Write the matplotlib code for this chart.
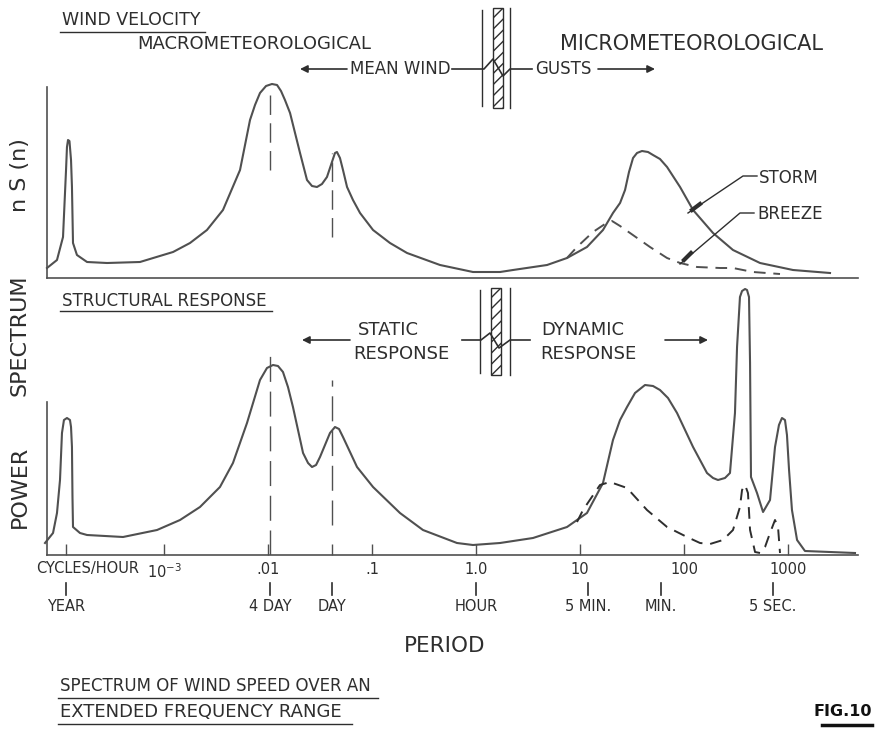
import numpy as np
import matplotlib
matplotlib.use("Agg")
import matplotlib.pyplot as plt
from matplotlib.patches import Rectangle
from matplotlib.ticker import FixedLocator, NullFormatter

# ---- values (x = log10 cycles/hour, y = spectral height) ----
# wind velocity, storm (solid)
storm_logf = [-4.125, -4.029, -3.971, -3.942, -3.933, -3.923, -3.909, -3.894, -3.885,
              -3.875, -3.837, -3.740, -3.548, -3.231, -2.913, -2.750, -2.587, -2.433,
              -2.269, -2.221, -2.173, -2.125, -2.077, -2.019, -1.962, -1.913, -1.875,
              -1.837, -1.788, -1.692, -1.625, -1.577, -1.529, -1.481, -1.433, -1.385,
              -1.356, -1.337, -1.308, -1.279, -1.240, -1.183, -1.115, -0.990, -0.827,
              -0.663, -0.346, -0.029, 0.231, 0.356, 0.683, 0.875, 1.067, 1.221, 1.317,
              1.385, 1.433, 1.471, 1.510, 1.548, 1.596, 1.654, 1.702, 1.769, 1.837,
              1.962, 2.087, 2.279, 2.471, 2.731, 3.048, 3.404]
storm_s = [10, 18, 41, 108, 131, 138, 137, 118, 91,
           35, 23, 16, 15, 16, 26, 35, 48, 68,
           108, 133, 158, 173, 185, 192, 194, 193, 187,
           178, 165, 125, 98, 92, 91, 94, 101, 116,
           125, 126, 120, 108, 91, 78, 65, 48, 35,
           25, 13, 6, 6, 8, 13, 20, 31, 48, 65,
           75, 88, 106, 120, 125, 127, 126, 123, 119, 111,
           91, 68, 45, 28, 15, 8, 5]

# wind velocity, breeze (dashed)
breeze_logf = [0.875, 0.971, 1.125, 1.240, 1.308, 1.385, 1.481, 1.673, 1.837, 1.962,
               2.125, 2.346, 2.471, 2.663, 2.923]
breeze_s = [20, 31, 46, 54, 57, 52, 45, 31, 20, 15, 11, 10, 10, 6, 4]

# structural response, storm (solid)
resp_logf = [-4.144, -4.067, -4.029, -4.000, -3.981, -3.962, -3.933, -3.904, -3.894,
             -3.885, -3.880, -3.875, -3.808, -3.740, -3.394, -3.067, -2.846, -2.654,
             -2.462, -2.337, -2.202, -2.077, -2.010, -1.952, -1.904, -1.856, -1.808,
             -1.760, -1.663, -1.615, -1.577, -1.538, -1.500, -1.404, -1.356, -1.317,
             -1.279, -1.144, -0.990, -0.731, -0.510, -0.183, -0.029, 0.231, 0.548,
             0.875, 1.067, 1.221, 1.317, 1.385, 1.452, 1.529, 1.625, 1.702, 1.769,
             1.846, 1.933, 2.087, 2.221, 2.279, 2.327, 2.394, 2.442, 2.490, 2.510,
             2.538, 2.558, 2.587, 2.606, 2.625, 2.635, 2.644, 2.702, 2.760, 2.827,
             2.875, 2.913, 2.942, 2.971, 2.990, 3.010, 3.038, 3.087, 3.163, 3.644]
resp_s = [12, 22, 42, 75, 122, 135, 137, 135, 128,
          108, 58, 28, 22, 20, 18, 25, 35, 48,
          68, 92, 132, 175, 187, 190, 189, 183, 168,
          148, 102, 92, 88, 90, 98, 122, 128, 126,
          118, 88, 68, 42, 25, 12, 10, 12, 17,
          28, 42, 72, 115, 135, 148, 162, 170, 169, 165,
          157, 142, 108, 82, 77, 75, 77, 82, 142, 208,
          258, 264, 266, 265, 258, 192, 78, 62, 43, 55,
          108, 130, 137, 135, 120, 85, 45, 15, 4, 2]

# structural response, breeze (dashed)
resp_b_logf = [0.971, 1.029, 1.192, 1.288, 1.452, 1.644, 1.837, 2.029, 2.154, 2.250,
               2.375, 2.471, 2.538, 2.558, 2.587, 2.615, 2.635, 2.683, 2.731, 2.779,
               2.827, 2.875, 2.904, 2.923]
resp_b_s = [33, 45, 70, 73, 67, 45, 28, 18, 12, 11, 15, 25, 48, 65, 70, 62, 25, 3, 2, 8,
            22, 35, 28, 2]

freq_ticks = [1e-3, 1e-2, 1e-1, 1.0, 10, 100, 1000]
freq_labels = [r'$10^{-3}$', '.01', '.1', '1.0', '10', '100', '1000']
period_freqs = [1 / 8760, 1 / 96, 1 / 24, 1.0, 12, 60, 720]
period_labels = ['YEAR', '4 DAY', 'DAY', 'HOUR', '5 MIN.', 'MIN.', '5 SEC.']

LINE = '#505050'
INK = '#2e2e2e'
W, H = 884, 731

plt.rcParams['font.family'] = ['DejaVu Sans']


def box(x0, y0, x1, y1):
    # pixel box (top-left origin) -> figure fraction rect
    return [x0 / W, 1 - y1 / H, (x1 - x0) / W, (y1 - y0) / H]


fig = plt.figure(figsize=(W / 100, H / 100), dpi=100)
ax_top = fig.add_axes(box(47, 60, 858, 278))
ax_bot = fig.add_axes(box(47, 283, 858, 555))

for ax in (ax_top, ax_bot):
    ax.set_xscale('log')
    ax.set_xlim(10 ** -4.125, 10 ** 3.673)
    ax.patch.set_alpha(0)
    for s in ('top', 'right'):
        ax.spines[s].set_visible(False)
    for s in ('left', 'bottom'):
        ax.spines[s].set_color(LINE)
        ax.spines[s].set_linewidth(1.2)
    ax.set_yticks([])

ax_top.set_ylim(0, 218)
ax_top.spines['left'].set_bounds(0, 191)
ax_top.set_xticks([])
ax_top.xaxis.set_minor_locator(FixedLocator([]))

ax_bot.set_ylim(0, 272)
ax_bot.spines['left'].set_bounds(0, 153)
ax_bot.set_xticks(freq_ticks)
ax_bot.set_xticklabels(freq_labels)
ax_bot.xaxis.set_minor_locator(FixedLocator([1 / 8760, 1 / 24]))
ax_bot.xaxis.set_minor_formatter(NullFormatter())
ax_bot.tick_params(axis='x', which='both', direction='in', length=8, width=1,
                   color=LINE, pad=5, labelsize=10.5, labelcolor=INK)

# curves
ax_top.plot(10 ** np.array(storm_logf), storm_s, color=LINE, lw=1.5, clip_on=False,
            solid_joinstyle='round')
ax_top.plot(10 ** np.array(breeze_logf), breeze_s, color=LINE, lw=1.4,
            dashes=(6, 4), clip_on=False)
ax_bot.plot(10 ** np.array(resp_logf), resp_s, color=LINE, lw=1.5, clip_on=False,
            solid_joinstyle='round')
ax_bot.plot(10 ** np.array(resp_b_logf), resp_b_s, color=INK, lw=1.4,
            dashes=(6, 4), clip_on=False)

# dashed guides at 4 day and day
ax_top.plot([1 / 96, 1 / 96], [108, 190], color=LINE, lw=1, dashes=(14, 6))
ax_top.plot([1 / 24, 1 / 24], [41, 125], color=LINE, lw=1, dashes=(14, 6))
ax_bot.plot([1 / 96, 1 / 96], [0, 203], color=LINE, lw=1, dashes=(18, 7))
ax_bot.plot([1 / 24, 1 / 24], [30, 175], color=LINE, lw=1, dashes=(18, 7))

# period row under the frequency axis
tr = ax_bot.get_xaxis_transform()
for f, lab in zip(period_freqs, period_labels):
    ax_bot.plot([f, f], [-0.103, -0.147], transform=tr, color=INK, lw=1.2, clip_on=False)
    ax_bot.text(f, -0.19, lab, transform=tr, ha='center', va='center',
                fontsize=10.5, color=INK)

# ---- annotation layer in pixel coordinates ----
ann = fig.add_axes([0, 0, 1, 1])
ann.set_xlim(0, W)
ann.set_ylim(H, 0)
ann.axis('off')
ann.patch.set_alpha(0)


def txt(x, y, s, size=11, ha='left', **kw):
    kw.setdefault('color', INK)
    ann.text(x, y, s, fontsize=size, ha=ha, va='center', **kw)


def arrow(x_from, x_to, y):
    ann.annotate('', xy=(x_to, y), xytext=(x_from, y),
                 arrowprops=dict(arrowstyle='-|>', color=INK, lw=1.2,
                                 mutation_scale=11, shrinkA=0, shrinkB=0))


txt(62, 20, 'WIND VELOCITY', 12.5)
ann.plot([60, 205], [32, 32], color=INK, lw=1)
txt(137, 44, 'MACROMETEOROLOGICAL', 13)
txt(560, 44, 'MICROMETEOROLOGICAL', 15)
arrow(347, 300, 69)
txt(350, 69, 'MEAN WIND', 12)
ann.plot([452, 484, 493, 503, 510, 532], [69, 69, 59, 76, 69, 69], color=INK, lw=1.2)
txt(535, 69, 'GUSTS', 12)
arrow(598, 655, 69)

txt(62, 301, 'STRUCTURAL RESPONSE', 12)
ann.plot([60, 272], [311, 311], color=INK, lw=1)
arrow(350, 302, 340)
txt(358, 330, 'STATIC', 13)
txt(353, 354, 'RESPONSE', 13)
ann.plot([462, 481, 490, 499, 510, 530], [340, 340, 333, 348, 340, 340], color=INK, lw=1.2)
txt(541, 330, 'DYNAMIC', 13)
txt(540, 354, 'RESPONSE', 13)
arrow(665, 708, 340)

# broken-axis hatch bands
for y0, y1, xl, xr in [(8, 108, 482, 510), (288, 375, 480, 510)]:
    ann.plot([xl, xl], [y0 + 2, y1 - 2], color=INK, lw=1)
    ann.plot([xr, xr], [y0, y1], color=INK, lw=1)
    ann.add_patch(Rectangle((xl + 11, y0), 10, y1 - y0, fill=False, hatch='///',
                            edgecolor=INK, lw=1))

# storm / breeze leaders
ann.plot([688, 743, 757], [213, 176, 176], color=INK, lw=1)
ann.plot([692, 700], [210, 204], color=INK, lw=3)
txt(759, 178, 'STORM', 12)
ann.plot([680, 740, 754], [264, 213, 213], color=INK, lw=1)
ann.plot([684, 691], [260, 253], color=INK, lw=3)
txt(757, 214, 'BREEZE', 12)

# vertical axis label
for y, s in [(487, 'POWER'), (335, 'SPECTRUM'), (175, 'n S (n)')]:
    txt(20, y, s, 16, ha='center', rotation=90)

txt(36, 568, 'CYCLES/HOUR', 10.5)
txt(445, 646, 'PERIOD', 15.5, ha='center')

txt(60, 686, 'SPECTRUM OF WIND SPEED OVER AN', 12)
ann.plot([58, 378], [698, 698], color=INK, lw=1)
txt(60, 712, 'EXTENDED FREQUENCY RANGE', 13)
ann.plot([58, 352], [724, 724], color=INK, lw=1)
txt(872, 712, 'FIG.10', 11.5, ha='right', fontweight='bold', color='#111111')
ann.plot([822, 872], [725, 725], color='#111111', lw=2.5)

fig.savefig('out.png', dpi=100)
